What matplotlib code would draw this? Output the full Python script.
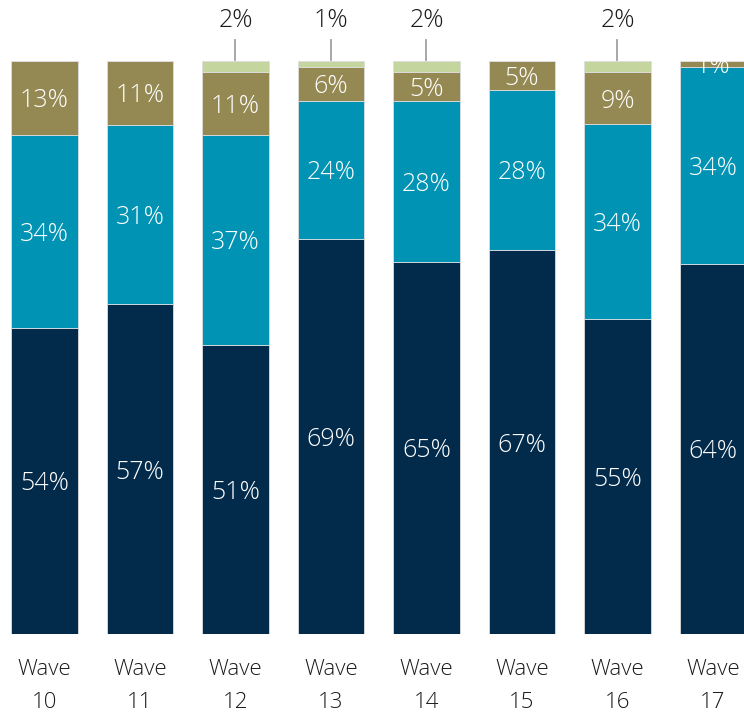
import numpy as np
import matplotlib
matplotlib.use("Agg")
import matplotlib.pyplot as plt

# data
waves = ['Wave\n10', 'Wave\n11', 'Wave\n12', 'Wave\n13', 'Wave\n14', 'Wave\n15', 'Wave\n16', 'Wave\n17']
navy = [54, 57, 51, 69, 65, 67, 55, 64]
teal = [34, 31, 37, 24, 28, 28, 34, 34]
olive = [13, 11, 11, 6, 5, 5, 9, 1]
light = [0, 0, 2, 1, 2, 0, 2, 0]

colors = ['#022B4B', '#0093B3', '#958953', '#C4D69E']
plt.rcParams['font.family'] = ['Open Sans', 'DejaVu Sans']

series = np.array([navy, teal, olive, light], dtype=float)
# bars are drawn at 100% each (rounded labels don't always add up)
shares = series / series.sum(axis=0) * 100

fig = plt.figure(figsize=(7.44, 7.18), dpi=100)
ax = fig.add_axes([0, 0.117, 1, 0.798])

x = np.arange(len(waves))
bottom = np.zeros(len(waves))
for i in range(4):
    ax.bar(x, shares[i], 0.70, bottom=bottom, color=colors[i],
           edgecolor='#dddddd', linewidth=0.6)
    for j in range(len(waves)):
        v = series[i][j]
        if v == 0:
            continue
        if i < 3:
            ax.text(x[j], bottom[j] + shares[i][j] / 2, f'{int(v)}%', color='white',
                    ha='center', va='center_baseline', fontsize=18,
                    fontweight='light', clip_on=True)
        else:
            # small top slice: label above with a leader line
            ax.plot([x[j], x[j]], [100.2, 103.7], color='#a0a0a0', lw=1.3,
                    clip_on=False)
            ax.text(x[j], 107.6, f'{int(v)}%', color='#1a1a1a', ha='center',
                    va='center_baseline', fontsize=18, fontweight='light',
                    clip_on=False)
    bottom += shares[i]

ax.set_xlim(-0.466, 7.325)
ax.set_ylim(0, 100)
ax.set_xticks(x)
ax.set_xticklabels(waves, fontsize=16, fontweight='light', linespacing=1.72,
                   color='#1a1a1a')
ax.tick_params(axis='x', length=0, pad=18)
ax.set_yticks([])
for s in ax.spines.values():
    s.set_visible(False)

fig.savefig('out.png', dpi=100)
